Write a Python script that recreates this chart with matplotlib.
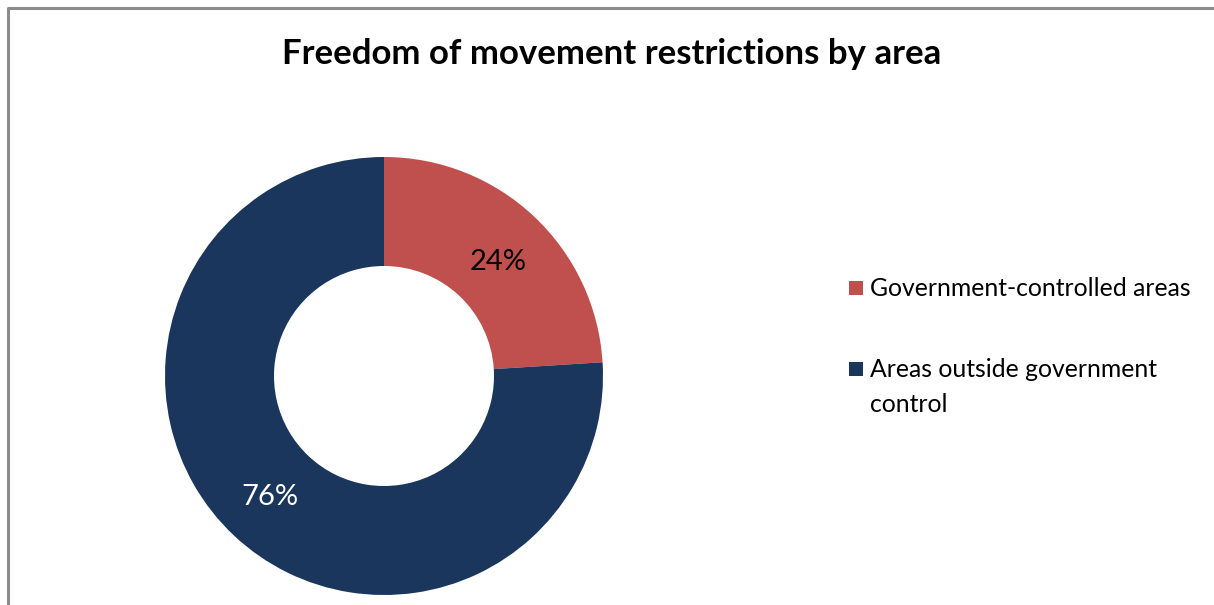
import matplotlib
matplotlib.use("Agg")
import matplotlib.pyplot as plt
from matplotlib.patches import Rectangle

plt.rcParams['font.family'] = ['Lato', 'DejaVu Sans']

# data
categories = ["Government-controlled areas", "Areas outside government\ncontrol"]
shares = [24, 76]
colors = ["#C0504D", "#1B365D"]
label_colors = ["black", "white"]
title = "Freedom of movement restrictions by area"

W, H = 1214, 605
fig = plt.figure(figsize=(W / 100, H / 100), dpi=100)
ax = fig.add_axes([0, 0, 1, 1])
ax.set_xlim(0, W)
ax.set_ylim(0, H)
ax.axis('off')

# chart border (left and top only visible)
ax.plot([8, 8, W + 5], [-5, H - 8, H - 8], color="#8c8c8c", lw=2.2, solid_capstyle='butt')

cx, cy, r = 384, H - 376, 219
wedges, texts = ax.pie(shares, colors=colors, startangle=90, counterclock=False,
                       center=(cx, cy), radius=r,
                       wedgeprops=dict(width=r - 110, linewidth=0))
ax.set_xlim(0, W)
ax.set_ylim(0, H)
ax.set_aspect('auto')

# percentage labels
label_pos = [(498, H - 262), (270, H - 497)]
for (x, y), v, c in zip(label_pos, shares, label_colors):
    ax.text(x, y, f"{v}%", color=c, fontsize=21, ha='center', va='center')

ax.text(612, H - 54, title, fontsize=25, fontweight='bold', ha='center', va='center')

# legend
leg_y = [H - 288, H - 369]
for y, lab, col in zip(leg_y, categories, colors):
    ax.add_patch(Rectangle((849, y - 7), 14, 14, facecolor=col, edgecolor='none'))
    ax.text(870, y + 11, lab, fontsize=17.8, ha='left', va='top', linespacing=1.65)

fig.savefig("out.png", dpi=100)
